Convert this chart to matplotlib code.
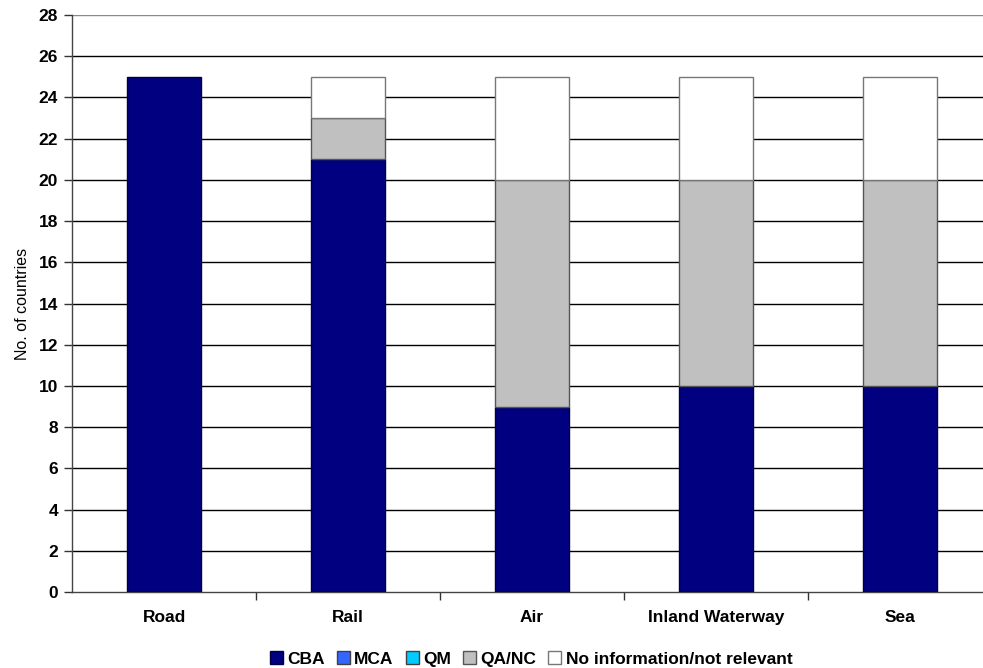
import matplotlib.pyplot as plt
import numpy as np

plt.rcParams['font.family'] = ['Liberation Sans', 'DejaVu Sans']
plt.rcParams['font.weight'] = 'bold'

modes = ['Road', 'Rail', 'Air', 'Inland Waterway', 'Sea']
cba = [25, 21, 9, 10, 10]
mca = [0, 0, 0, 0, 0]
qm = [0, 0, 0, 0, 0]
qa_nc = [0, 2, 11, 10, 10]
no_info = [0, 2, 5, 5, 5]

series = [
    ('CBA', cba, '#000080', '#000040'),
    ('MCA', mca, '#3366ff', '#404040'),
    ('QM', qm, '#00ccff', '#404040'),
    ('QA/NC', qa_nc, '#c0c0c0', '#555555'),
    ('No information/not relevant', no_info, '#ffffff', '#777777'),
]

fig = plt.figure(figsize=(9.83, 6.68), dpi=100)
ax = fig.add_axes([72 / 983, 76 / 668, 920 / 983, 577 / 668])

x = np.arange(len(modes))
bottom = np.zeros(len(modes))
for name, vals, color, edge in series:
    vals = np.array(vals, dtype=float)
    # zero-height segments would leave a stray outline, so mask them
    lw = np.where(vals > 0, 1.0, 0.0)
    ax.bar(x, vals, width=0.4, bottom=bottom, color=color, edgecolor=edge,
           linewidth=lw, label=name, zorder=3)
    bottom += vals

ax.set_xlim(-0.5, len(modes) - 0.5)
ax.set_ylim(0, 28)
ax.set_yticks(np.arange(0, 29, 2))
ax.tick_params(axis='y', labelsize=12.5, length=6, width=1, color='#333333', pad=4)
ax.set_xticks(x)
ax.set_xticklabels(modes, fontsize=12.5)
ax.tick_params(axis='x', length=0, pad=13)
ax.set_xticks(np.arange(0.5, len(modes) - 0.5, 1), minor=True)
ax.tick_params(axis='x', which='minor', length=6, width=1, color='#333333')

for yv in range(2, 29, 2):
    ax.axhline(yv, color='black' if yv < 28 else '#888888', linewidth=1.0, zorder=1)

for s in ['top', 'right']:
    ax.spines[s].set_visible(False)
for s in ['left', 'bottom']:
    ax.spines[s].set_color('#444444')
    ax.spines[s].set_linewidth(1.0)

ax.set_ylabel('No. of countries', fontsize=11.5, labelpad=6)

leg = fig.legend(loc='center', bbox_to_anchor=(531 / 983, 9 / 668), ncol=5,
                 frameon=False, fontsize=12.5, handlelength=0.75, handleheight=0.75,
                 handletextpad=0.25, columnspacing=0.7)
for h in leg.legend_handles:
    h.set_linewidth(1.0)

fig.savefig('out.png', dpi=100)
